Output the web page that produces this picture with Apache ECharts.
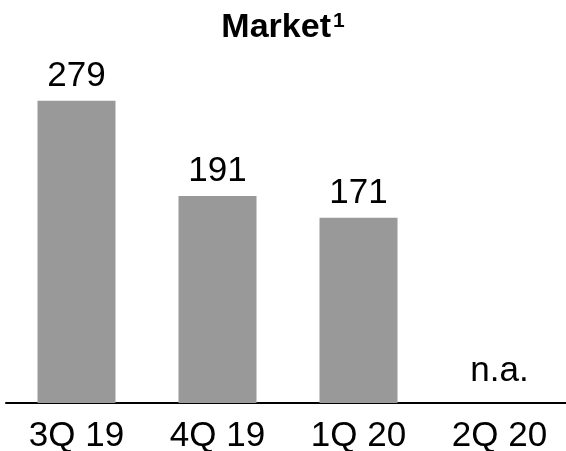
<!DOCTYPE html>
<html>
<head>
<meta charset="utf-8">
<script src="https://cdn.jsdelivr.net/npm/echarts@6/dist/echarts.min.js"></script>
<style>
  html, body { margin: 0; padding: 0; background: #fff; }
  #chart { width: 566px; height: 451px; }
</style>
</head>
<body>
<div id="chart"></div>
<script>
const categories = ["3Q 19", "4Q 19", "1Q 20", "2Q 20"];
const values = [279, 191, 171, null];
const labels = ["279", "191", "171", "n.a."];

const chart = echarts.init(document.getElementById("chart"));
const font = "Liberation Sans, Arial, sans-serif";

const option = {
  backgroundColor: "#fff",
  animation: false,
  title: {
    text: "{m|Market}{s|1}",
    left: "center",
    top: 6,
    textStyle: {
      rich: {
        m: { fontFamily: font, fontSize: 34, fontWeight: "bold", color: "#000" },
        s: { fontFamily: font, fontSize: 21, fontWeight: "bold", color: "#000", verticalAlign: "top", padding: [0, 0, 10, 2] },
      },
    },
  },
  grid: { left: 6, top: 78, width: 564, height: 325, outerBoundsMode: "none" },
  xAxis: {
    type: "category",
    data: categories,
    axisLine: { lineStyle: { color: "#000", width: 2 } },
    axisTick: { show: false },
    axisLabel: { fontFamily: font, fontSize: 35, color: "#000", margin: 16 },
  },
  yAxis: { type: "value", min: 0, max: 300, show: false, splitLine: { show: false } },
  series: [
    {
      type: "bar",
      barWidth: 78,
      data: values.map((v) => ({
        value: v == null ? 0 : v,
        label: { distance: v == null ? 14 : 7 },
      })),
      itemStyle: { color: "#999999" },
      label: {
        show: true,
        position: "top",
        fontFamily: font,
        fontSize: 35,
        color: "#000",
        formatter: (p) => labels[p.dataIndex],
      },
    },
  ],
};
chart.setOption(option);
</script>
</body>
</html>
